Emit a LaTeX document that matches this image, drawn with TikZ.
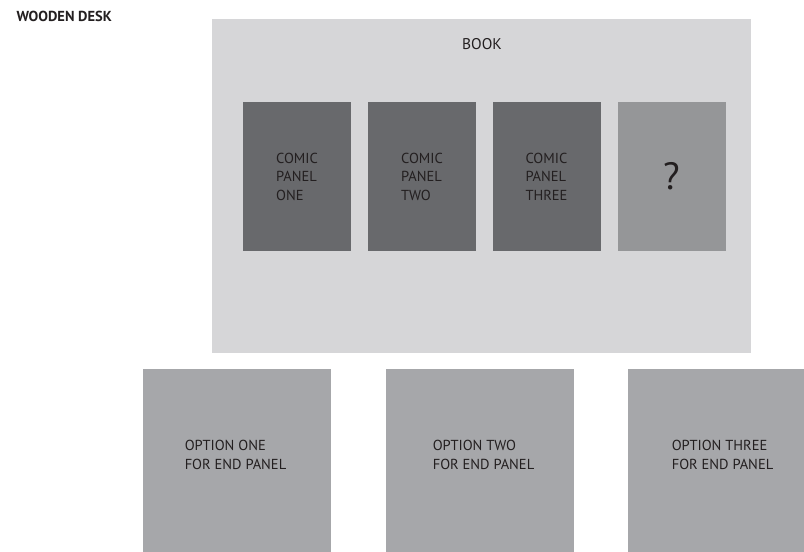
\documentclass[tikz,border=0pt]{standalone}
\usepackage{fontspec}
\setmainfont{PT Sans}
\usetikzlibrary{positioning}
\definecolor{bookgray}{RGB}{214, 214, 216}
\definecolor{panelgray}{RGB}{104, 105, 108}
\definecolor{blankgray}{RGB}{149, 150, 152}
\definecolor{optiongray}{RGB}{166, 167, 170}
\definecolor{inkblack}{RGB}{35, 31, 32}
\tikzset{
  sheet/.style={rectangle, inner sep=0pt, outer sep=0pt},
  comic/.style={sheet, fill=panelgray, minimum width=108pt, minimum height=149pt,
    align=left, font=\fontsize{14.5}{18.5}\selectfont},
  optbox/.style={sheet, fill=optiongray, minimum width=188pt, minimum height=183pt},
  optlabel/.style={align=left, font=\fontsize{14.5}{18.7}\selectfont}
}

\begin{document}
\begin{tikzpicture}[x=1pt, y=-1pt, inkblack]
  \useasboundingbox (0,0) rectangle (804,552);
  \clip (0,0) rectangle (804,552);

  \node[anchor=west, font=\bfseries\fontsize{14.5}{17}\selectfont] (desk) at (13,16.5) {WOODEN DESK};

  \node[sheet, fill=bookgray, minimum width=539pt, minimum height=334pt] (book) at (481.5,186) {};
  \node[font=\fontsize{15.5}{18}\selectfont] (booktitle) at (482,44) {BOOK};

  \node[comic] (panelone) at (297,176.5) {COMIC\\PANEL\\ONE};
  \node[comic] (paneltwo) at (422,176.5) {COMIC\\PANEL\\TWO};
  \node[comic] (panelthree) at (546.5,176.5) {COMIC\\PANEL\\THREE};
  \node[comic, fill=blankgray, font=\fontsize{38}{42}\selectfont] (panelend) at (671.5,176.5) {?};

  \node[optbox] (optone) at (237,460.5) {};
  \node[optbox] (opttwo) at (479.5,460.5) {};
  \node[optbox] (optthree) at (722,460.5) {};
  \node[optlabel] (optonetext) at (235.5,455) {OPTION ONE\\FOR END PANEL};
  \node[optlabel] (opttwotext) at (483.5,455) {OPTION TWO\\FOR END PANEL};
  \node[optlabel] (optthreetext) at (722.5,455) {OPTION THREE\\FOR END PANEL};
\end{tikzpicture}
\end{document}
